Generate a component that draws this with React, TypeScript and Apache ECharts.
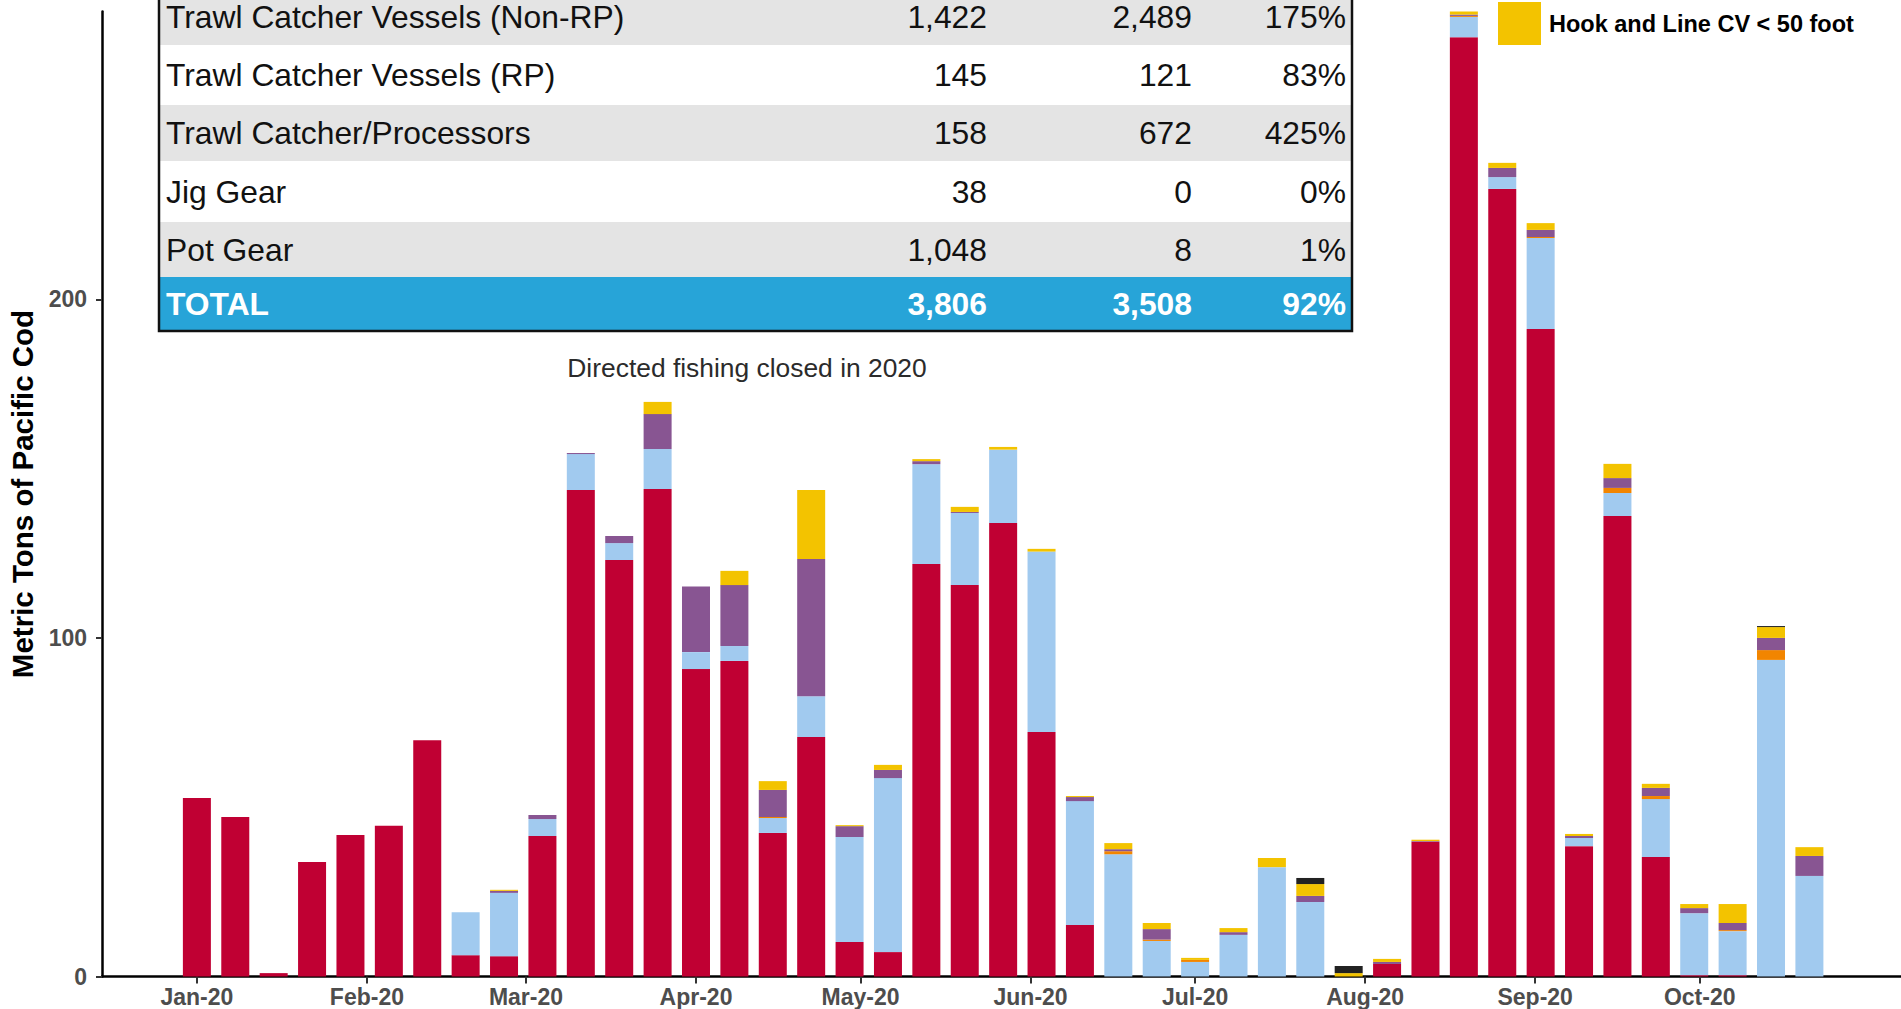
import React, { useEffect, useRef } from "react";
import * as echarts from "echarts";

// ---------- DATA ----------
const weekStarts = [
  "2020-01-01", "2020-01-08", "2020-01-15", "2020-01-22", "2020-01-29",
  "2020-02-05", "2020-02-12", "2020-02-19", "2020-02-26", "2020-03-04",
  "2020-03-11", "2020-03-18", "2020-03-25", "2020-04-01", "2020-04-08",
  "2020-04-15", "2020-04-22", "2020-04-29", "2020-05-06", "2020-05-13",
  "2020-05-20", "2020-05-27", "2020-06-03", "2020-06-10", "2020-06-17",
  "2020-06-24", "2020-07-01", "2020-07-08", "2020-07-15", "2020-07-22",
  "2020-07-29", "2020-08-05", "2020-08-12", "2020-08-19", "2020-08-26",
  "2020-09-02", "2020-09-09", "2020-09-16", "2020-09-23", "2020-09-30",
  "2020-10-07", "2020-10-14", "2020-10-21",
];

// Stacked bottom -> top
const trawlCvNonRp = [
  52.7, 47.1, 1.0, 33.8, 41.8, 44.5, 69.8, 6.3, 6.0, 41.5,
  143.7, 123.0, 144.0, 90.8, 93.2, 42.4, 70.7, 10.2, 7.2, 121.8,
  115.6, 133.9, 72.2, 15.2, 0, 0, 0, 0, 0, 0,
  0, 3.7, 39.8, 277.4, 232.6, 191.2, 38.5, 136.0, 35.3, 0.4,
  0.4, 0, 0,
];
const trawlCatcherProcessors = [
  0, 0, 0, 0, 0, 0, 0, 12.7, 18.7, 5.0,
  10.6, 5.0, 11.8, 5.0, 4.4, 4.4, 12.1, 31.0, 51.4, 29.5,
  21.3, 21.7, 53.3, 36.6, 36.1, 10.5, 4.3, 12.3, 32.3, 22.0,
  0, 0, 0, 6.0, 3.5, 26.9, 2.4, 6.8, 17.1, 18.3,
  13.0, 93.5, 29.7,
];
const potGear = [
  0, 0, 0, 0, 0, 0, 0, 0, 0, 0,
  0, 0, 0, 0, 0, 0.3, 0, 0, 0, 0,
  0, 0, 0, 0, 0.9, 0.4, 0.6, 0, 0, 0,
  0, 0, 0, 0.3, 0, 0.3, 0, 1.5, 0.9, 0,
  0.3, 2.9, 0,
];
const trawlCvRp = [
  0, 0, 0, 0, 0, 0, 0, 0, 0.6, 1.2,
  0.3, 2.1, 10.3, 19.4, 18.0, 8.0, 40.5, 3.2, 2.4, 0.9,
  0.3, 0, 0, 1.2, 0.6, 3.1, 0, 0.8, 0, 1.8,
  0, 0.6, 0.2, 0.4, 2.7, 2.1, 0.6, 2.9, 2.4, 1.5,
  2.1, 3.6, 5.9,
];
const hookLineUnder50 = [
  0, 0, 0, 0, 0, 0, 0, 0, 0.3, 0,
  0, 0, 3.6, 0, 4.2, 2.6, 20.4, 0.3, 1.5, 0.6,
  1.5, 0.8, 0.8, 0.3, 1.8, 1.8, 0.6, 1.2, 2.7, 3.5,
  1.0, 0.9, 0.4, 1.0, 1.5, 2.0, 0.6, 4.2, 1.2, 1.2,
  5.6, 3.2, 2.6,
];
const hookLineOver50 = [
  0, 0, 0, 0, 0, 0, 0, 0, 0, 0,
  0, 0, 0, 0, 0, 0, 0, 0, 0, 0,
  0, 0, 0, 0, 0, 0, 0, 0, 0, 1.8,
  2.1, 0, 0, 0, 0, 0, 0, 0, 0, 0,
  0, 0.3, 0,
];

const monthTickDates = [
  "2020-01-01", "2020-02-01", "2020-03-01", "2020-04-01", "2020-05-01",
  "2020-06-01", "2020-07-01", "2020-08-01", "2020-09-01", "2020-10-01",
];
const monthTickLabels = [
  "Jan-20", "Feb-20", "Mar-20", "Apr-20", "May-20",
  "Jun-20", "Jul-20", "Aug-20", "Sep-20", "Oct-20",
];
const yTickValues = [0, 100, 200];

const tableCategories = [
  "Trawl Catcher Vessels (Non-RP)",
  "Trawl Catcher Vessels (RP)",
  "Trawl Catcher/Processors",
  "Jig Gear",
  "Pot Gear",
  "TOTAL",
];
const tableColumnA = [1422, 145, 158, 38, 1048, 3806];
const tableColumnB = [2489, 121, 672, 0, 8, 3508];
const tablePercent = [175, 83, 425, 0, 1, 92];

const yAxisTitle = "Metric Tons of Pacific Cod";
const annotationText = "Directed fishing closed in 2020";

// ---------- LAYOUT / HELPERS ----------
const FONT = "'Liberation Sans', Arial, Helvetica, sans-serif";
const W = 1901;
const GRID_LEFT = 102;
const GRID_TOP = 11.5;
const GRID_BOTTOM = 32.5;
const X_MIN = -17.3; // days relative to 2020-01-01
const X_MAX = 310.7;
const Y_MAX = 285;

const dayIndex = (s: string) =>
  Math.round((Date.parse(s + "T00:00:00Z") - Date.parse("2020-01-01T00:00:00Z")) / 86400000);
const tickDays = monthTickDates.map(dayIndex);
const tickLabelMap: Record<number, string> = {};
tickDays.forEach((d, i) => (tickLabelMap[d] = monthTickLabels[i]));

// bar grid aligned so that each weekly band (7 days) is centred on its week's date
const pxPerDay = (W - GRID_LEFT) / (X_MAX - X_MIN);
const firstDay = dayIndex(weekStarts[0]);
const lastDay = dayIndex(weekStarts[weekStarts.length - 1]);
const barGridLeft = GRID_LEFT + (firstDay - 3.5 - X_MIN) * pxPerDay;
const barGridRight = W - (GRID_LEFT + (lastDay + 3.5 - X_MIN) * pxPerDay);

const seriesDefs = [
  { name: "Trawl Catcher Vessels (Non-RP)", data: trawlCvNonRp, color: "#C00033" },
  { name: "Trawl Catcher/Processors", data: trawlCatcherProcessors, color: "#A1CAEF" },
  { name: "Pot Gear", data: potGear, color: "#F28500" },
  { name: "Trawl Catcher Vessels (RP)", data: trawlCvRp, color: "#885592" },
  { name: "Hook and Line CV < 50 foot", data: hookLineUnder50, color: "#F3C300" },
  { name: "Hook and Line CV >= 50 foot", data: hookLineOver50, color: "#222222" },
];

function buildTable() {
  const rowEdges = [-11, 45, 105, 161, 222, 277, 331];
  const left = 160;
  const right = 1352;
  const colRight = [987, 1192, 1346];
  const els: any[] = [];
  const fmt = (n: number) => n.toLocaleString("en-US");
  tableCategories.forEach((cat, i) => {
    const isTotal = i === tableCategories.length - 1;
    const fill = isTotal ? "#27A4D8" : i % 2 === 0 ? "#E4E4E4" : "#FFFFFF";
    const y0 = rowEdges[i];
    const y1 = rowEdges[i + 1];
    const cy = (y0 + y1) / 2;
    const top = Math.max(0, y0);
    els.push({
      type: "rect",
      shape: { x: left, y: top, width: right - left, height: y1 - top },
      style: { fill },
      z: 100,
    });
    const textStyle = {
      fontFamily: FONT,
      fontSize: 31.8,
      lineHeight: 30,
      fontWeight: isTotal ? "bold" : "normal",
      fill: isTotal ? "#FFFFFF" : "#111111",
      verticalAlign: "middle",
    };
    els.push({ type: "text", x: 166, y: cy, z: 101, style: { ...textStyle, text: cat, align: "left" } });
    const vals = [fmt(tableColumnA[i]), fmt(tableColumnB[i]), tablePercent[i] + "%"];
    vals.forEach((v, j) => {
      els.push({ type: "text", x: colRight[j], y: cy, z: 101, style: { ...textStyle, text: v, align: "right" } });
    });
  });
  els.push({
    type: "polyline",
    shape: { points: [[159, 0], [159, 331], [1352, 331], [1352, 0]] },
    style: { stroke: "#111111", lineWidth: 2.5, fill: null },
    z: 102,
  });
  return els;
}

export default function App() {
  const ref = useRef<HTMLDivElement>(null);
  useEffect(() => {
    if (!ref.current) return;
    const chart = echarts.init(ref.current, null, { renderer: "svg" });
    const option: any = {
      animation: false,
      backgroundColor: "#FFFFFF",
      textStyle: { fontFamily: FONT },
      grid: [
        { left: GRID_LEFT, right: 0, top: GRID_TOP, bottom: GRID_BOTTOM, containLabel: false },
        { left: barGridLeft, right: barGridRight, top: GRID_TOP, bottom: GRID_BOTTOM, containLabel: false },
      ],
      legend: {
        data: [{ name: "Hook and Line CV < 50 foot" }],
        left: 1498,
        top: 2,
        padding: 0,
        itemWidth: 43,
        itemHeight: 43,
        icon: "rect",
        selectedMode: false,
        textStyle: { fontFamily: FONT, fontSize: 23.5, fontWeight: "bold", color: "#000000", padding: [0, 0, 0, 3] },
      },
      xAxis: [
        {
          gridIndex: 0,
          type: "value",
          min: X_MIN,
          max: X_MAX,
          axisLine: { show: true, onZero: false, lineStyle: { color: "#000000", width: 2.5 } },
          axisTick: { show: true, length: 7, customValues: tickDays, lineStyle: { color: "#333333", width: 2 } },
          axisLabel: {
            customValues: tickDays,
            formatter: (v: number) => tickLabelMap[v] ?? "",
            fontFamily: FONT,
            fontSize: 23,
            fontWeight: "bold",
            color: "#4D4D4D",
            margin: 9,
          },
          splitLine: { show: false },
        },
        {
          gridIndex: 1,
          type: "category",
          data: weekStarts,
          boundaryGap: true,
          show: false,
        },
      ],
      yAxis: [
        {
          gridIndex: 0,
          type: "value",
          min: 0,
          max: Y_MAX,
          interval: 100,
          axisLine: { show: true, onZero: false, lineStyle: { color: "#000000", width: 2.5 } },
          axisTick: { show: true, length: 6, customValues: yTickValues, lineStyle: { color: "#333333", width: 2 } },
          axisLabel: {
            customValues: yTickValues,
            fontFamily: FONT,
            fontSize: 23,
            fontWeight: "bold",
            color: "#4D4D4D",
            margin: 15,
          },
          splitLine: { show: false },
        },
        {
          gridIndex: 1,
          type: "value",
          min: 0,
          max: Y_MAX,
          show: false,
          splitLine: { show: false },
        },
      ],
      series: seriesDefs.map((s) => ({
        name: s.name,
        type: "bar",
        xAxisIndex: 1,
        yAxisIndex: 1,
        stack: "total",
        barWidth: 28,
        silent: true,
        itemStyle: { color: s.color },
        emphasis: { disabled: true },
        data: s.data,
      })),
      graphic: [
        {
          type: "text",
          x: 22,
          y: 494,
          rotation: Math.PI / 2,
          style: {
            text: yAxisTitle,
            fontFamily: FONT,
            fontSize: 29.5,
            fontWeight: "bold",
            fill: "#000000",
            align: "center",
            verticalAlign: "middle",
          },
        },
        {
          type: "text",
          x: 747,
          y: 368,
          style: {
            text: annotationText,
            fontFamily: FONT,
            fontSize: 26.4,
            fill: "#2B2B2B",
            align: "center",
            verticalAlign: "middle",
          },
        },
        ...buildTable(),
      ],
    };
    chart.setOption(option);
    return () => chart.dispose();
  }, []);
  return (
    <div
      ref={ref}
      style={{ position: "absolute", left: 0, top: 0, width: W, height: 1009 }}
    />
  );
}
